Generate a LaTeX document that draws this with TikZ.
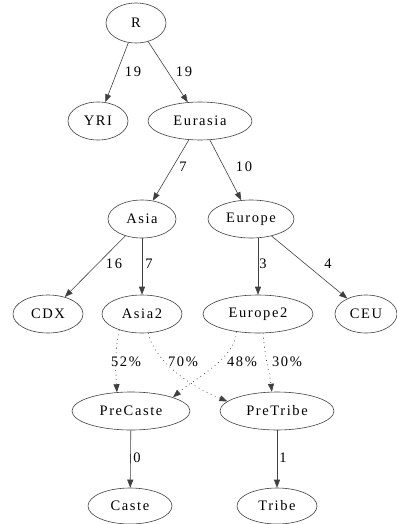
\documentclass[tikz,border=0pt]{standalone}
\usepackage{fontspec}
\setmainfont{Liberation Serif}[LetterSpace=11]
\usetikzlibrary{shapes.geometric,arrows.meta}
\tikzset{
  nd/.style={draw=black!75, line width=0.6pt, ellipse, inner sep=0pt, font=\fontsize{14.5}{14.5}\selectfont},
  edge/.style={draw=black!75, line width=0.6pt, -{Triangle[length=8pt,width=6pt]}},
  dot/.style={edge, dash pattern=on 0.9pt off 3.6pt},
  lbl/.style={inner sep=0pt, font=\fontsize{14.5}{14.5}\selectfont}
}
\begin{document}
\begin{tikzpicture}[x=1pt,y=-1pt]
\useasboundingbox (0,0) rectangle (396,524);
\node[nd, minimum width=60pt, minimum height=40pt] (R) at (136,23) {R};
\node[nd, minimum width=60pt, minimum height=38pt] (YRI) at (98,121) {YRI};
\node[nd, minimum width=104pt, minimum height=38pt] (Eurasia) at (200,121) {Eurasia};
\node[nd, minimum width=68pt, minimum height=38pt] (Asia) at (142,219) {Asia};
\node[nd, minimum width=86pt, minimum height=38pt] (Europe) at (251,219) {Europe};
\node[nd, minimum width=70pt, minimum height=38pt] (CDX) at (48,314) {CDX};
\node[nd, minimum width=80pt, minimum height=38pt] (Asia2) at (142,314) {Asia2};
\node[nd, minimum width=110pt, minimum height=38pt] (Europe2) at (258,314) {Europe2};
\node[nd, minimum width=62pt, minimum height=38pt] (CEU) at (366,314) {CEU};
\node[nd, minimum width=118pt, minimum height=38pt] (PreCaste) at (131,411) {PreCaste};
\node[nd, minimum width=114pt, minimum height=38pt] (PreTribe) at (277,411) {PreTribe};
\node[nd, minimum width=84pt, minimum height=36pt] (Caste) at (130,506) {Caste};
\node[nd, minimum width=80pt, minimum height=36pt] (Tribe) at (277,506) {Tribe};

\draw[edge] (R) -- (YRI) node[lbl] (l1) at (133,72) {19};
\draw[edge] (R) -- (Eurasia) node[lbl] (l2) at (184,72) {19};
\draw[edge] (Eurasia) -- (Asia) node[lbl] (l3) at (183,167) {7};
\draw[edge] (Eurasia) -- (Europe) node[lbl] (l4) at (244,167) {10};
\draw[edge] (Asia) -- (CDX) node[lbl] (l5) at (114,264) {16};
\draw[edge] (Asia) -- (Asia2) node[lbl] (l6) at (149,264) {7};
\draw[edge] (Europe.south -| Europe2.north) -- (Europe2.north) node[lbl] (l7) at (263,264) {3};
\draw[edge] (Europe) -- (CEU) node[lbl] (l8) at (328,264) {4};
\draw[edge] (PreCaste) -- (Caste) node[lbl] (l9) at (137,458) {0};
\draw[edge] (PreTribe) -- (Tribe) node[lbl] (l10) at (283,458) {1};

\draw[dot] (Asia2.215) .. controls (114,355) and (116,375) .. (PreCaste.127);
\draw[dot] (Asia2.288) .. controls (156,365) and (195,388) .. (PreTribe.169);
\draw[dot] (Europe2.220) .. controls (234,360) and (195,378) .. (PreCaste.18);
\draw[dot] (Europe2.285) .. controls (265,360) and (270,375) .. (PreTribe.105);
\node[lbl] (p1) at (126,362) {52\%};
\node[lbl] (p2) at (183,362) {70\%};
\node[lbl] (p3) at (242,362) {48\%};
\node[lbl] (p4) at (287,362) {30\%};
\end{tikzpicture}
\end{document}
